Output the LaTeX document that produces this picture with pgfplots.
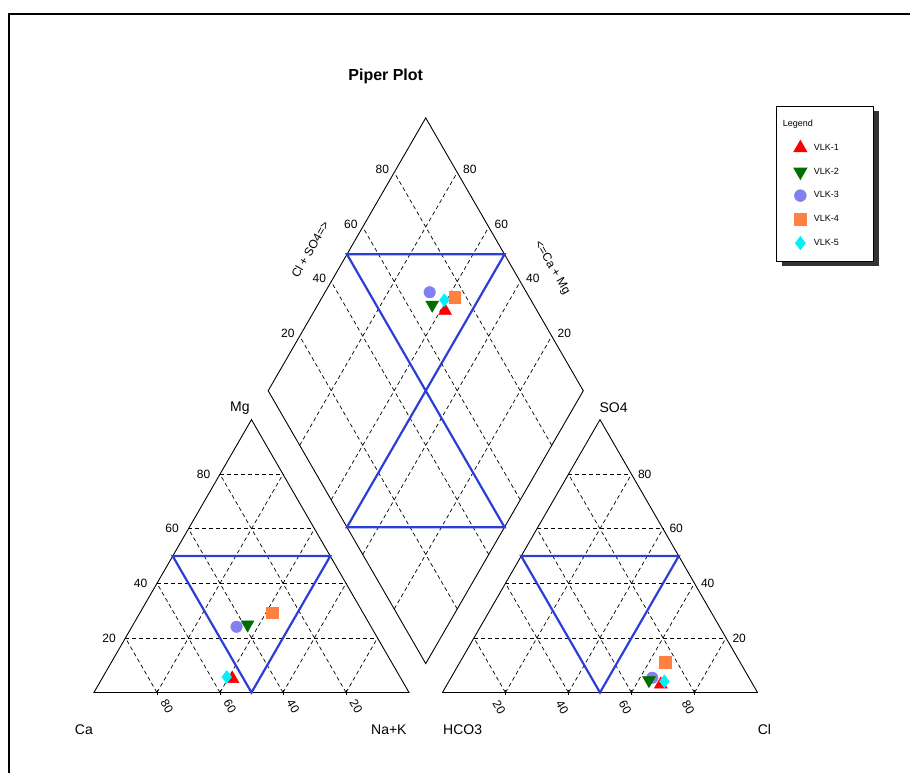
\documentclass[border=0pt]{standalone}
\usepackage{pgfplots}
\pgfplotsset{compat=1.18}
\usepackage{pgfplotstable}
\usepackage{fontspec}
\setmainfont{Liberation Sans}
\usetikzlibrary{shadows}
\definecolor{zoneblue}{RGB}{45,62,215}
\definecolor{vlkgreen}{RGB}{0,110,0}
\definecolor{vlkpurple}{RGB}{128,128,240}
\definecolor{vlkorange}{RGB}{255,128,64}
\definecolor{vlkcyan}{RGB}{0,240,250}

% percentages: Mg, Na+K (cations), SO4, Cl (anions)
\pgfplotstableread{
Mg   NaK   SO4   Cl
5.0  41.5  3.0   67.8
}\vlkA
\pgfplotstableread{
Mg   NaK   SO4   Cl
24.9 36.3  4.5   63.3
}\vlkB
\pgfplotstableread{
Mg   NaK   SO4   Cl
24.1 33.2  5.4   63.9
}\vlkC
\pgfplotstableread{
Mg   NaK   SO4   Cl
29.2 42.0  11.1  65.2
}\vlkD
\pgfplotstableread{
Mg   NaK   SO4   Cl
5.7  39.3  4.1   68.4
}\vlkE

\tikzset{
  pgrid/.style={black, line width=0.7pt, dash pattern=on 4pt off 3pt},
  pedge/.style={black, line width=0.9pt},
  pzone/.style={zoneblue, line width=2.2pt, line join=miter},
  tlab/.style={font=\fontsize{12}{14}\selectfont, inner sep=0pt},
  ttl/.style={font=\fontsize{14}{16}\selectfont, inner sep=0pt},
}
\pgfplotsset{
 s1/.style={only marks, mark=triangle*, mark size=7.5pt, color=red},
 s2/.style={only marks, mark=triangle*, mark size=7.5pt, color=vlkgreen, mark options={rotate=180}},
 s3/.style={only marks, mark=*, mark size=5.8pt, color=vlkpurple},
 s4/.style={only marks, mark=square*, mark size=5.8pt, color=vlkorange},
 s5/.style={only marks, mark=diamond*, mark size=6.5pt, color=vlkcyan},
}
\newcommand{\catplot}[2]{\addplot[#1,forget plot] table[x expr={\thisrow{NaK}+0.5*\thisrow{Mg}}, y expr={0.8660254*\thisrow{Mg}}] {#2};}
\newcommand{\anplot}[2]{\addplot[#1,forget plot] table[x expr={110.6+\thisrow{Cl}+0.5*\thisrow{SO4}}, y expr={0.8660254*\thisrow{SO4}}] {#2};}
\newcommand{\diaplot}[2]{\addplot[#1,forget plot] table[x expr={105.3+0.5*(\thisrow{Cl}+\thisrow{SO4}+\thisrow{NaK}-100)}, y expr={9.18+0.8660254*(\thisrow{Cl}+\thisrow{SO4}+100-\thisrow{NaK})}] {#2};}

\begin{document}
\begin{tikzpicture}
\begin{axis}[
  width=911pt, height=774pt, scale only axis,
  xmin=-29.81, xmax=259.1, ymin=-25.69, ymax=219.8,
  hide axis, clip=false,
  legend cell align=left,
  legend style={at={(0.8529,0.8630)}, anchor=north west, draw=black, line width=0.8pt, fill=white,
    font=\fontsize{9}{10}\selectfont, inner xsep=15pt, inner ysep=6pt, row sep=0pt, column sep=5pt,
    nodes={minimum height=23.8pt, text width=43pt, inner xsep=2pt, inner ysep=0pt},
    drop shadow={shadow xshift=5pt, shadow yshift=-5pt, fill=black!80, opacity=1}},
]
\path (rel axis cs:0,0) rectangle (rel axis cs:1,1);
% frame
\draw[line width=1.3pt] (axis cs:-26.96,-25.69) -- (axis cs:-26.96,215.35) -- (axis cs:259.1,215.35);

% grids
\pgfplotsinvokeforeach{20,40,60,80}{
  \draw[pgrid] (axis cs:{#1/2},{0.8660254*#1}) -- (axis cs:{100-#1/2},{0.8660254*#1});
  \draw[pgrid] (axis cs:{#1},0) -- (axis cs:{50+#1/2},{0.8660254*(100-#1)});
  \draw[pgrid] (axis cs:{100-#1},0) -- (axis cs:{(100-#1)/2},{0.8660254*(100-#1)});
  \draw[pgrid] (axis cs:{110.6+#1/2},{0.8660254*#1}) -- (axis cs:{210.6-#1/2},{0.8660254*#1});
  \draw[pgrid] (axis cs:{110.6+#1},0) -- (axis cs:{160.6+#1/2},{0.8660254*(100-#1)});
  \draw[pgrid] (axis cs:{210.6-#1},0) -- (axis cs:{110.6+(100-#1)/2},{0.8660254*(100-#1)});
  \draw[pgrid] (axis cs:{105.3-#1/2},{9.18+0.8660254*#1}) -- (axis cs:{155.3-#1/2},{95.78+0.8660254*#1});
  \draw[pgrid] (axis cs:{105.3+#1/2},{9.18+0.8660254*#1}) -- (axis cs:{55.3+#1/2},{95.78+0.8660254*#1});
  \draw[pedge] (axis cs:{#1},-0.8) -- (axis cs:{#1},0.8);
  \draw[pedge] (axis cs:{110.6+#1},-0.8) -- (axis cs:{110.6+#1},0.8);
  % tick labels
  \node[tlab, anchor=east] at (axis cs:{#1/2-3.0},{0.8660254*#1}) {#1};
  \node[tlab, anchor=west] at (axis cs:{210.6-#1/2+2.0},{0.8660254*#1}) {#1};
  \node[tlab, rotate=-60] at (axis cs:{100-#1+3.2},-4.5) {#1};
  \node[tlab, rotate=-60] at (axis cs:{110.6+#1-2.0},-4.7) {#1};
  \node[tlab, anchor=east] at (axis cs:{55.3+#1/2-1.6},{95.78+0.8660254*#1+0.9}) {#1};
  \node[tlab, anchor=west] at (axis cs:{155.3-#1/2+1.8},{95.78+0.8660254*#1+0.9}) {#1};
}

% outlines
\draw[pedge] (axis cs:0,0) -- (axis cs:100,0) -- (axis cs:50,86.6025) -- cycle;
\draw[pedge] (axis cs:110.6,0) -- (axis cs:210.6,0) -- (axis cs:160.6,86.6025) -- cycle;
\draw[pedge] (axis cs:105.3,9.18) -- (axis cs:155.3,95.78) -- (axis cs:105.3,182.38) -- (axis cs:55.3,95.78) -- cycle;

% zones
\draw[pzone] (axis cs:25,43.30) -- (axis cs:75,43.30) -- (axis cs:50,0) -- cycle;
\draw[pzone] (axis cs:135.6,43.30) -- (axis cs:185.6,43.30) -- (axis cs:160.6,0) -- cycle;
\draw[pzone] (axis cs:80.3,139.08) -- (axis cs:130.3,139.08) -- (axis cs:80.3,52.48) -- (axis cs:130.3,52.48) -- cycle;

% titles
\node[font=\bfseries\fontsize{16}{18}\selectfont] at (axis cs:92.6,195.7) {Piper Plot};
\node[ttl] at (axis cs:46.3,90.4) {Mg};
\node[ttl] at (axis cs:-3.2,-11.7) {Ca};
\node[ttl] at (axis cs:93.6,-11.7) {Na+K};
\node[ttl] at (axis cs:164.9,90.4) {SO4};
\node[ttl] at (axis cs:117.0,-11.7) {HCO3};
\node[ttl] at (axis cs:212.8,-11.7) {Cl};
\node[tlab, rotate=60] at (axis cs:68.6,140.6) {Cl + SO4=>};
\node[tlab, rotate=-60] at (axis cs:145.4,134.8) {<=Ca + Mg};

% data
\catplot{s4}{\vlkD}\catplot{s3}{\vlkC}\catplot{s2}{\vlkB}\catplot{s1}{\vlkA}\catplot{s5}{\vlkE}
\anplot{s4}{\vlkD}\anplot{s3}{\vlkC}\anplot{s2}{\vlkB}\anplot{s1}{\vlkA}\anplot{s5}{\vlkE}
\diaplot{s4}{\vlkD}\diaplot{s3}{\vlkC}\diaplot{s2}{\vlkB}\diaplot{s1}{\vlkA}\diaplot{s5}{\vlkE}

% legend
\addlegendimage{empty legend}\addlegendentry{\hspace*{-31pt}Legend}
\addlegendimage{s1}\addlegendentry{VLK-1}
\addlegendimage{s2}\addlegendentry{VLK-2}
\addlegendimage{s3}\addlegendentry{VLK-3}
\addlegendimage{s4}\addlegendentry{VLK-4}
\addlegendimage{s5}\addlegendentry{VLK-5}
\end{axis}
\end{tikzpicture}
\end{document}
